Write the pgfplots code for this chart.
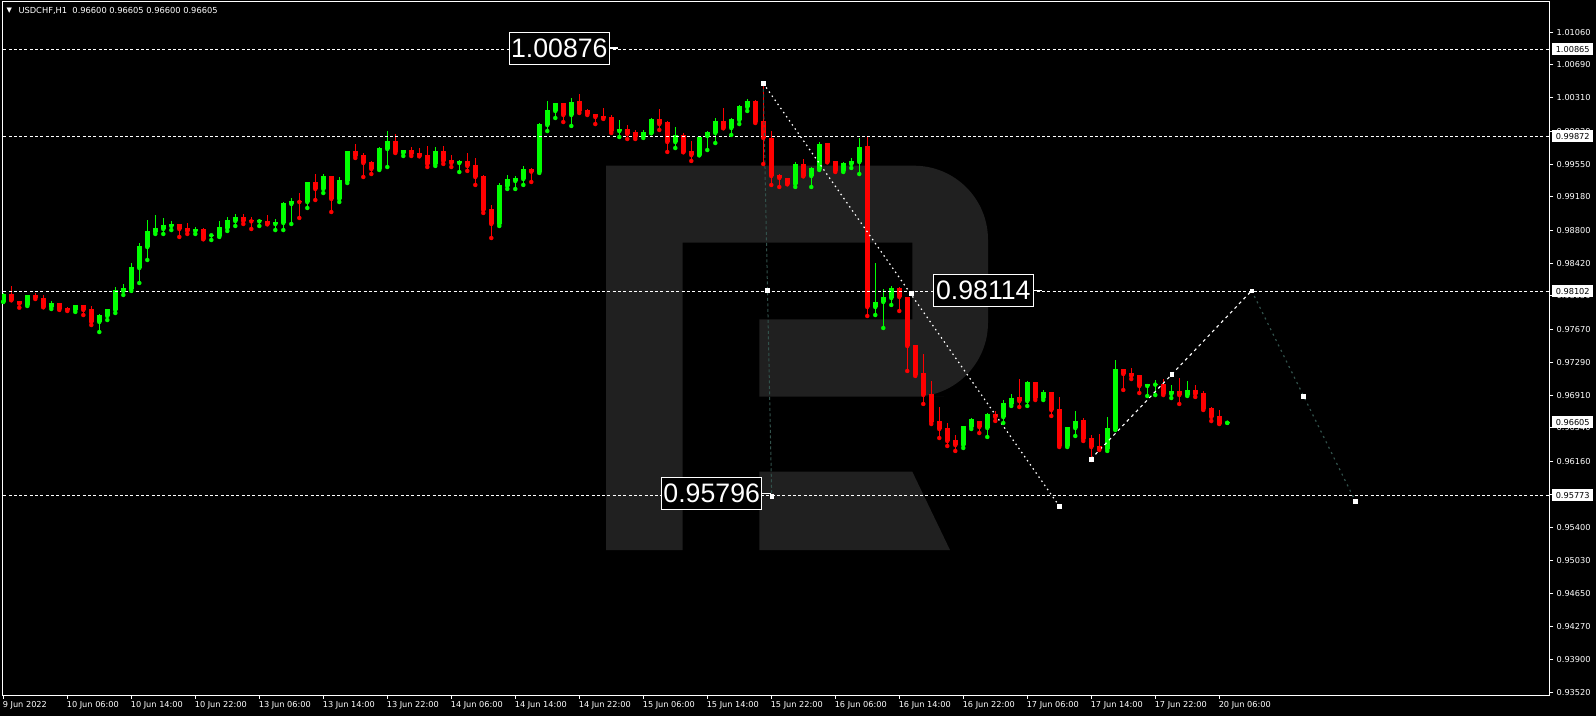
\documentclass[border=0pt]{standalone}
\usepackage{pgfplots}
\pgfplotsset{compat=1.18}
\usepackage{pgfplotstable}
\usepackage{fontspec}
\setmainfont{DejaVu Sans}
\newfontfamily\libsans{Liberation Sans}
\definecolor{cgreen}{RGB}{0,255,0}
\definecolor{cred}{RGB}{255,0,0}
\definecolor{wm}{RGB}{32,32,32}
\definecolor{tealgray}{RGB}{50,82,76}
\newcommand\smallf{\fontsize{8.2}{9.5}\selectfont}

\pgfplotstableread{
k o h l c
0 0.97983 0.98078 0.97979 0.98074
3 0.97945 0.98063 0.97933 0.98059
6 0.97922 0.97990 0.97899 0.97968
9 0.97888 0.97949 0.97865 0.97945
12 0.97751 0.97842 0.97636 0.97830
13 0.97819 0.97903 0.97773 0.97899
14 0.97888 0.98150 0.97853 0.98116
15 0.98105 0.98185 0.98059 0.98139
16 0.98128 0.98425 0.98105 0.98379
17 0.98367 0.98653 0.98196 0.98619
18 0.98607 0.98916 0.98459 0.98790
19 0.98779 0.98973 0.98756 0.98824
20 0.98813 0.98939 0.98756 0.98859
21 0.98847 0.98904 0.98801 0.98870
24 0.98790 0.98836 0.98756 0.98813
26 0.98741 0.98756 0.98687 0.98750
27 0.98733 0.98904 0.98722 0.98836
28 0.98824 0.98950 0.98790 0.98916
29 0.98904 0.98984 0.98847 0.98950
32 0.98900 0.98927 0.98847 0.98910
34 0.98870 0.98927 0.98801 0.98893
35 0.98882 0.99121 0.98801 0.99110
36 0.99099 0.99167 0.98870 0.99133
38 0.99121 0.99354 0.99053 0.99350
40 0.99270 0.99441 0.99224 0.99418
42 0.99156 0.99407 0.99121 0.99373
43 0.99361 0.99708 0.99338 0.99704
47 0.99498 0.99750 0.99487 0.99738
48 0.99727 0.99933 0.99521 0.99818
50 0.99681 0.99719 0.99647 0.99715
54 0.99556 0.99750 0.99533 0.99704
57 0.99567 0.99601 0.99464 0.99590
62 0.98870 0.99338 0.98847 0.99316
63 0.99304 0.99430 0.99270 0.99384
64 0.99361 0.99418 0.99270 0.99396
65 0.99384 0.99533 0.99316 0.99498
67 0.99464 1.00024 0.99453 1.00012
68 1.00001 1.00275 0.99932 1.00172
69 1.00161 1.00256 1.00081 1.00252
71 1.00115 1.00309 0.99990 1.00264
77 0.99932 1.00058 0.99864 0.99955
80 0.99875 0.99944 0.99853 0.99921
81 0.99910 1.00081 0.99906 1.00070
84 0.99807 0.99978 0.99738 0.99887
87 0.99658 0.99868 0.99654 0.99864
88 0.99875 0.99932 0.99715 0.99921
89 0.99910 1.00081 0.99795 1.00047
91 0.99967 1.00081 0.99887 1.00070
92 1.00058 1.00229 1.00012 1.00218
93 1.00207 1.00298 1.00161 1.00275
99 0.99327 0.99578 0.99293 0.99555
101 0.99418 0.99521 0.99293 0.99510
102 0.99498 0.99807 0.99487 0.99784
105 0.99475 0.99578 0.99464 0.99567
106 0.99555 0.99624 0.99510 0.99590
107 0.99578 0.99853 0.99441 0.99750
109 0.97922 0.98425 0.97830 0.97979
110 0.97979 0.98127 0.97682 0.98036
111 0.98025 0.98162 0.97945 0.98139
120 0.96345 0.96566 0.96311 0.96562
121 0.96551 0.96654 0.96528 0.96642
123 0.96540 0.96711 0.96437 0.96699
125 0.96665 0.96859 0.96597 0.96825
126 0.96814 0.96928 0.96791 0.96882
128 0.96848 0.97076 0.96791 0.97065
130 0.96882 0.96974 0.96859 0.96951
133 0.96334 0.96555 0.96322 0.96551
134 0.96539 0.96734 0.96448 0.96619
138 0.96300 0.96665 0.96277 0.96539
139 0.96528 0.97316 0.96517 0.97214
143 0.97019 0.97046 0.96905 0.97042
144 0.97035 0.97088 0.96916 0.97046
146 0.96928 0.97031 0.96882 0.96962
148 0.96916 0.97076 0.96905 0.96974
153 0.96598 0.96605 0.96598 0.96607
}\greentab

\pgfplotstableread{
k o h l c
1 0.98070 0.98162 0.97998 0.98002
2 0.97990 0.97994 0.97914 0.97960
4 0.98059 0.98078 0.98013 0.98028
5 0.98025 0.98059 0.97918 0.97922
7 0.97968 0.97971 0.97888 0.97899
8 0.97910 0.97922 0.97876 0.97888
10 0.97945 0.97949 0.97830 0.97888
11 0.97899 0.97933 0.97716 0.97751
22 0.98870 0.98874 0.98722 0.98813
23 0.98824 0.98882 0.98756 0.98790
25 0.98813 0.98824 0.98695 0.98699
30 0.98950 0.98984 0.98870 0.98904
31 0.98910 0.98950 0.98813 0.98900
33 0.98904 0.98973 0.98866 0.98870
37 0.99133 0.99224 0.98939 0.99121
39 0.99350 0.99441 0.99144 0.99270
41 0.99418 0.99422 0.99007 0.99156
44 0.99704 0.99784 0.99624 0.99647
45 0.99658 0.99681 0.99407 0.99567
46 0.99578 0.99590 0.99441 0.99498
49 0.99818 0.99898 0.99681 0.99693
51 0.99715 0.99750 0.99647 0.99670
52 0.99681 0.99738 0.99643 0.99647
53 0.99658 0.99761 0.99521 0.99556
55 0.99704 0.99761 0.99556 0.99590
56 0.99601 0.99658 0.99521 0.99567
58 0.99590 0.99681 0.99476 0.99533
59 0.99544 0.99624 0.99316 0.99407
60 0.99418 0.99430 0.98996 0.99030
61 0.99041 0.99087 0.98710 0.98870
66 0.99498 0.99510 0.99350 0.99468
70 1.00252 1.00256 1.00035 1.00115
72 1.00275 1.00355 1.00138 1.00161
73 1.00172 1.00184 1.00115 1.00127
74 1.00127 1.00131 1.00012 1.00092
75 1.00104 1.00195 1.00070 1.00081
76 1.00092 1.00115 0.99910 0.99932
78 0.99955 1.00001 0.99841 0.99898
79 0.99921 0.99944 0.99841 0.99864
82 1.00070 1.00184 0.99944 1.00012
83 1.00035 1.00047 0.99693 0.99807
85 0.99887 0.99910 0.99689 0.99693
86 0.99704 0.99818 0.99590 0.99658
90 1.00047 1.00195 0.99963 0.99967
94 1.00275 1.00287 1.00024 1.00035
95 1.00047 1.00480 0.99555 0.99853
96 0.99853 0.99932 0.99316 0.99418
97 0.99430 0.99441 0.99293 0.99396
98 0.99396 0.99400 0.99323 0.99327
100 0.99555 0.99613 0.99414 0.99418
103 0.99795 0.99799 0.99574 0.99578
104 0.99590 0.99594 0.99464 0.99475
108 0.99761 0.99868 0.97819 0.97922
112 0.98139 0.98150 0.97876 0.98036
113 0.98036 0.98040 0.97191 0.97476
114 0.97488 0.97492 0.97134 0.97145
115 0.97168 0.97385 0.96814 0.96917
116 0.96928 0.97076 0.96585 0.96608
117 0.96620 0.96779 0.96425 0.96528
118 0.96540 0.96597 0.96334 0.96391
119 0.96402 0.96460 0.96277 0.96345
122 0.96620 0.96624 0.96482 0.96551
124 0.96699 0.96734 0.96620 0.96665
127 0.96894 0.97099 0.96779 0.96848
129 0.97065 0.97069 0.96859 0.96882
131 0.96951 0.96955 0.96677 0.96745
132 0.96757 0.96894 0.96322 0.96334
135 0.96631 0.96654 0.96391 0.96414
136 0.96425 0.96460 0.96174 0.96322
137 0.96334 0.96471 0.96288 0.96300
140 0.97214 0.97218 0.96974 0.97156
141 0.97168 0.97225 0.97099 0.97134
142 0.97145 0.97149 0.96939 0.97019
145 0.97042 0.97099 0.96916 0.96928
147 0.96962 0.97111 0.96814 0.96916
149 0.96974 0.97031 0.96894 0.96928
150 0.96939 0.96962 0.96745 0.96757
151 0.96768 0.96779 0.96619 0.96665
152 0.96677 0.96745 0.96585 0.96590
}\redtab

\begin{document}
\begin{tikzpicture}
% background
\begin{scope}[x=1pt,y=1pt]
\fill[black] (0,0) rectangle (1596,716);
% watermark logo
\fill[wm] (606,550.3) -- (700,550.3) [rounded corners=74pt] -- (988,550.3) -- (988,319.3) -- (870,319.3) [sharp corners] -- (759.3,319.3) -- (759.3,396.7) -- (912.3,396.7) -- (912.3,473.3) -- (682.7,473.3) -- (682.7,166) -- (606,166) -- cycle;
\fill[wm] (759.3,244.3) -- (912.3,244.3) -- (950,166) -- (759.3,166) -- cycle;
\end{scope}

\begin{axis}[
  at={(2pt,21pt)}, anchor=south west,
  width=1548pt, height=693pt, scale only axis,
  xmin=-0.1625, xmax=193.34, ymin=0.934891, ymax=1.014062,
  axis line style={white, line width=1pt},
  tick style={white, line width=1pt},
  tick align=outside, major tick length=3.5pt,
  xtick pos=left, ytick pos=right, yticklabel pos=right,
  xtick={0,8,16,24,32,40,48,56,64,72,80,88,96,104,112,120,128,136,144,152},
  xticklabels={9 Jun 2022,10 Jun 06:00,10 Jun 14:00,10 Jun 22:00,13 Jun 06:00,13 Jun 14:00,13 Jun 22:00,14 Jun 06:00,14 Jun 14:00,14 Jun 22:00,15 Jun 06:00,15 Jun 14:00,15 Jun 22:00,16 Jun 06:00,16 Jun 14:00,16 Jun 22:00,17 Jun 06:00,17 Jun 14:00,17 Jun 22:00,20 Jun 06:00},
  ytick={1.0106,1.0069,1.0031,0.9993,0.9955,0.9918,0.9880,0.9842,0.9805,0.9767,0.9729,0.9691,0.9654,0.9616,0.9578,0.9540,0.9503,0.9465,0.9427,0.9390,0.9352},
  yticklabels={1.01060,1.00690,1.00310,0.99930,0.99550,0.99180,0.98800,0.98420,0.98050,0.97670,0.97290,0.96910,0.96540,0.96160,0.95780,0.95400,0.95030,0.94650,0.94270,0.93900,0.93520},
  xticklabel style={font=\smallf, text=white, anchor=north west, inner sep=0pt, xshift=-0.7pt, yshift=-3.2pt},
  yticklabel style={font=\smallf, text=white, anchor=west, inner sep=0pt, xshift=3pt},
  clip=true,
]
% wicks
\addplot[cgreen, only marks, mark=none, forget plot,
  error bars/.cd, y dir=plus, y explicit, error mark=none,
  error bar style={line width=1pt, draw=cgreen}]
  table[x=k, y=l, y error plus expr=\thisrow{h}-\thisrow{l}] {\greentab};
\addplot[cred, only marks, mark=none, forget plot,
  error bars/.cd, y dir=plus, y explicit, error mark=none,
  error bar style={line width=1pt, draw=cred}]
  table[x=k, y=l, y error plus expr=\thisrow{h}-\thisrow{l}] {\redtab};
% bodies
\addplot[cgreen, only marks, mark=none, forget plot,
  error bars/.cd, y dir=plus, y explicit, error mark=none,
  error bar style={line width=5pt, draw=cgreen}]
  table[x=k, y=o, y error plus expr=\thisrow{c}-\thisrow{o}] {\greentab};
\addplot[cred, only marks, mark=none, forget plot,
  error bars/.cd, y dir=plus, y explicit, error mark=none,
  error bar style={line width=5pt, draw=cred}]
  table[x=k, y=c, y error plus expr=\thisrow{o}-\thisrow{c}] {\redtab};

% horizontal levels
\addplot[white, line width=1pt, dash pattern=on 3pt off 2.3pt] coordinates {(-2,1.00865) (200,1.00865)};
\addplot[white, line width=1pt, dash pattern=on 3pt off 2.3pt] coordinates {(-2,0.99872) (200,0.99872)};
\addplot[white, line width=1pt, dash pattern=on 3pt off 2.3pt] coordinates {(-2,0.98102) (200,0.98102)};
\addplot[white, line width=1pt, dash pattern=on 3pt off 2.3pt] coordinates {(-2,0.95773) (200,0.95773)};

% analysis lines
\addplot[tealgray, line width=1pt, dash pattern=on 3pt off 2.5pt] coordinates {(95,1.00477) (96.05,0.95763)};
\addplot[white, line width=1.2pt, dash pattern=on 1.5pt off 3.5pt] coordinates {(95,1.00477) (132,0.95648)};
\addplot[white, line width=1.1pt, dash pattern=on 3pt off 3.5pt] coordinates {(135.96,0.96185) (156.05,0.98108)};
\addplot[tealgray, line width=1.2pt, dash pattern=on 2pt off 4pt] coordinates {(156.05,0.98108) (169.0,0.95705)};
\addplot[only marks, mark=square*, mark size=1.8pt, white] coordinates {
(95,1.00477) (95.5,0.98113) (96.05,0.95763) (113.46,0.98080) (132,0.95648)
(135.96,0.96185) (146.05,0.97156) (156.05,0.98108) (162.5,0.96905) (169.0,0.95705)};
\end{axis}

\begin{scope}[x=1pt,y=1pt]
% right price boxes
\foreach \yy/\tt in {666.6/1.00865, 579.7/0.99872, 424.8/0.98102, 293.7/0.96605, 220.9/0.95773}{
  \node[fill=white, text=black, inner sep=0pt, minimum width=41pt, minimum height=12pt, anchor=west, font=\smallf] at (1552,\yy) {\tt};
}
% big labels
\foreach \xx/\yy/\tt in {559.3/667.8/1.00876, 983.3/425.7/0.98114, 711.7/222.7/0.95796}{
  \node[draw=white, line width=1pt, fill=black, text=white, inner sep=0pt, minimum width=100pt, minimum height=32pt, font=\libsans\fontsize{26.7}{30}\selectfont] at (\xx,\yy) {\tt};
  \draw[white, line width=1.5pt] (\xx+50,\yy) -- (\xx+59,\yy);
}
% header
\node[anchor=center, text=white, inner sep=0pt, font=\fontsize{7}{8}\selectfont] at (9.3,705) {▼};
\node[anchor=west, text=white, inner sep=0pt, font=\fontsize{8.3}{9.5}\selectfont] at (18.3,705) {USDCHF,H1\ \ 0.96600 0.96605 0.96600 0.96605};
\end{scope}
\pgfresetboundingbox
\path[use as bounding box] (0,0) rectangle (1596pt,716pt);
\end{tikzpicture}
\end{document}
